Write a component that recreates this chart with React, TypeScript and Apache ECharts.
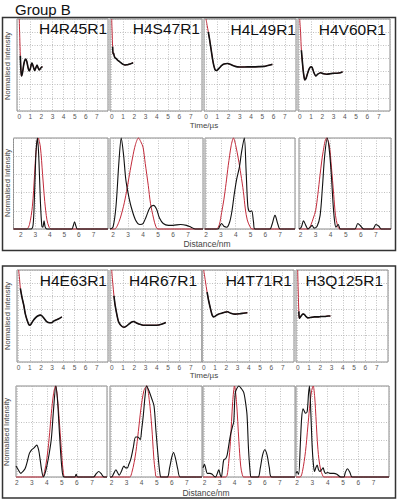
import React, { useEffect, useRef } from "react";
import * as echarts from "echarts";

const groupTitle = "Group B";
const panelTitles = ["H4R45R1", "H4S47R1", "H4L49R1", "H4V60R1", "H4E63R1", "H4R67R1", "H4T71R1", "H3Q125R1"];
const timeTickLabels = ["0", "1", "2", "3", "4", "5", "6", "7"];
const distTickLabels = ["2", "3", "4", "5", "6", "7"];
const yAxisTitle = "Normalised Intensity";
const timeAxisTitle = "Time/µs";
const distAxisTitle = "Distance/nm";

// DEER time traces: [time (µs), normalised intensity]
const timeH4R45R1 = [[0, 1.0], [0.05, 0.8], [0.1, 0.6], [0.15, 0.45], [0.21, 0.38], [0.3, 0.42], [0.4, 0.5], [0.5, 0.55], [0.6, 0.565], [0.7, 0.53], [0.8, 0.47], [0.9, 0.435], [1.0, 0.46], [1.1, 0.51], [1.16, 0.52], [1.25, 0.49], [1.4, 0.44], [1.5, 0.47], [1.6, 0.5], [1.7, 0.47], [1.8, 0.445], [1.9, 0.46], [2.0, 0.475], [2.1, 0.48]];
const timeH4S47R1 = [[0, 1.0], [0.04, 0.85], [0.08, 0.7], [0.12, 0.62], [0.16, 0.63], [0.22, 0.6], [0.3, 0.576], [0.4, 0.57], [0.5, 0.555], [0.6, 0.545], [0.7, 0.536], [0.8, 0.525], [0.9, 0.515], [1.0, 0.508], [1.1, 0.503], [1.2, 0.5], [1.3, 0.502], [1.4, 0.503], [1.5, 0.507], [1.6, 0.51], [1.7, 0.515], [1.8, 0.52], [1.9, 0.525]];
const timeH4L49R1 = [[0, 1.0], [0.1, 0.93], [0.2, 0.86], [0.3, 0.79], [0.4, 0.71], [0.5, 0.63], [0.6, 0.55], [0.7, 0.49], [0.8, 0.45], [0.9, 0.44], [1.0, 0.445], [1.2, 0.47], [1.4, 0.495], [1.6, 0.51], [1.9, 0.517], [2.2, 0.505], [2.5, 0.49], [2.8, 0.48], [3.2, 0.478], [3.7, 0.48], [4.2, 0.48], [4.7, 0.482], [5.2, 0.485], [5.5, 0.495], [5.9, 0.507]];
const timeH4V60R1 = [[0, 1.0], [0.08, 0.85], [0.15, 0.66], [0.3, 0.45], [0.4, 0.36], [0.45, 0.337], [0.55, 0.35], [0.7, 0.41], [0.85, 0.46], [1.0, 0.48], [1.1, 0.475], [1.25, 0.42], [1.43, 0.38], [1.6, 0.4], [1.85, 0.416], [2.1, 0.405], [2.4, 0.4], [2.7, 0.405], [3.0, 0.41], [3.3, 0.41], [3.6, 0.415], [3.8, 0.427]];
const timeH4E63R1 = [[0, 1.0], [0.08, 0.9], [0.15, 0.8], [0.3, 0.7], [0.45, 0.62], [0.6, 0.52], [0.75, 0.457], [0.9, 0.41], [0.98, 0.4], [1.1, 0.41], [1.3, 0.45], [1.5, 0.48], [1.7, 0.5], [1.94, 0.51], [2.1, 0.5], [2.3, 0.47], [2.5, 0.44], [2.77, 0.427], [3.0, 0.43], [3.2, 0.45], [3.4, 0.46], [3.6, 0.47], [3.87, 0.49]];
const timeH4R67R1 = [[0, 1.0], [0.1, 0.85], [0.2, 0.72], [0.3, 0.62], [0.45, 0.52], [0.6, 0.44], [0.8, 0.4], [1.1, 0.377], [1.3, 0.39], [1.5, 0.41], [1.7, 0.43], [1.93, 0.44], [2.2, 0.425], [2.5, 0.41], [2.8, 0.4], [3.2, 0.4], [3.6, 0.4], [4.0, 0.4], [4.4, 0.41], [4.8, 0.43]];
const timeH4T71R1 = [[0, 1.0], [0.15, 0.88], [0.3, 0.76], [0.45, 0.66], [0.6, 0.58], [0.75, 0.51], [0.9, 0.49], [1.1, 0.505], [1.3, 0.52], [1.6, 0.53], [1.85, 0.54], [2.1, 0.547], [2.4, 0.53], [2.8, 0.52], [3.2, 0.525], [3.5, 0.53], [3.87, 0.536]];
const timeH3Q125R1 = [[0, 1.0], [0.05, 0.75], [0.1, 0.55], [0.15, 0.475], [0.3, 0.5], [0.45, 0.52], [0.55, 0.52], [0.7, 0.5], [0.9, 0.48], [1.2, 0.485], [1.5, 0.49], [1.8, 0.49], [2.1, 0.495], [2.4, 0.495], [2.7, 0.5], [2.9, 0.5]];

// distance distributions: [distance (nm), normalised intensity]
const distBlackH4R45R1 = [[1.5, 0], [2.7, 0], [2.85, 0.05], [2.95, 0.4], [3.05, 0.85], [3.15, 1.0], [3.25, 0.75], [3.35, 0.3], [3.45, 0.03], [3.52, 0.02], [3.6, 0.09], [3.68, 0.02], [3.8, 0], [5.5, 0], [5.6, 0.03], [5.7, 0.08], [5.8, 0.03], [5.9, 0], [8, 0]];
const distRedH4R45R1 = [[1.5, 0], [2.4, 0], [2.6, 0.05], [2.8, 0.25], [2.95, 0.6], [3.05, 0.85], [3.2, 1.0], [3.35, 0.9], [3.5, 0.6], [3.65, 0.3], [3.8, 0.1], [3.95, 0.02], [4.1, 0], [8, 0]];
const distBlackH4S47R1 = [[1.8, 0], [2.0, 0.02], [2.2, 0.25], [2.4, 0.75], [2.55, 1.0], [2.7, 0.82], [2.85, 0.55], [3.0, 0.4], [3.2, 0.25], [3.5, 0.1], [3.8, 0.05], [4.0, 0.06], [4.2, 0.13], [4.45, 0.23], [4.7, 0.26], [4.9, 0.22], [5.1, 0.12], [5.35, 0.06], [5.7, 0.04], [6.0, 0.04], [6.5, 0.05], [6.9, 0.04], [7.2, 0.02], [7.5, 0], [8, 0]];
const distRedH4S47R1 = [[1.8, 0], [2.1, 0], [2.4, 0.08], [2.7, 0.25], [2.9, 0.41], [3.1, 0.6], [3.3, 0.78], [3.5, 0.93], [3.7, 1.0], [3.85, 0.96], [4.0, 0.9], [4.15, 0.72], [4.35, 0.48], [4.5, 0.28], [4.7, 0.12], [4.85, 0.03], [5.0, 0], [8, 0]];
const distBlackH4L49R1 = [[1.9, 0], [2.8, 0], [2.95, 0.04], [3.05, 0.06], [3.2, 0.03], [3.4, 0.02], [3.6, 0.08], [3.75, 0.2], [3.9, 0.38], [4.07, 0.55], [4.25, 0.68], [4.4, 0.85], [4.58, 1.0], [4.7, 0.65], [4.82, 0.25], [4.95, 0.19], [5.08, 0.2], [5.2, 0.08], [5.3, 0], [6.3, 0], [6.45, 0.05], [6.65, 0.15], [6.85, 0.05], [7.0, 0], [8, 0]];
const distRedH4L49R1 = [[1.9, 0], [2.7, 0], [2.9, 0.05], [3.05, 0.18], [3.2, 0.32], [3.35, 0.5], [3.5, 0.7], [3.7, 0.92], [3.85, 1.0], [4.0, 0.92], [4.18, 0.77], [4.35, 0.6], [4.52, 0.41], [4.65, 0.22], [4.78, 0.1], [4.95, 0.03], [5.1, 0], [8, 0]];
const distBlackH4V60R1 = [[1.9, 0], [2.05, 0.02], [2.2, 0.09], [2.35, 0.04], [2.5, 0], [2.65, 0.02], [2.77, 0.04], [2.9, 0.01], [3.1, 0.03], [3.3, 0.15], [3.45, 0.45], [3.6, 0.8], [3.78, 1.0], [3.92, 0.85], [4.05, 0.58], [4.15, 0.3], [4.25, 0.1], [4.35, 0.02], [4.5, 0.05], [4.65, 0], [5.6, 0], [5.8, 0.06], [6.0, 0.03], [6.2, 0], [6.8, 0], [7.0, 0.05], [7.2, 0.03], [7.35, 0], [8, 0]];
const distRedH4V60R1 = [[1.9, 0], [2.5, 0], [2.7, 0.05], [2.85, 0.12], [3.0, 0.2], [3.15, 0.38], [3.3, 0.6], [3.5, 0.85], [3.72, 1.0], [3.9, 0.93], [4.05, 0.68], [4.2, 0.38], [4.32, 0.15], [4.45, 0.04], [4.6, 0], [8, 0]];
const distBlackH4E63R1 = [[1.95, 0.12], [2.1, 0.08], [2.27, 0.04], [2.4, 0.06], [2.55, 0.09], [2.7, 0.17], [2.84, 0.26], [3.0, 0.3], [3.15, 0.32], [3.33, 0.35], [3.45, 0.3], [3.55, 0.2], [3.65, 0.08], [3.77, 0], [3.88, 0.04], [4.0, 0.12], [4.15, 0.25], [4.3, 0.42], [4.45, 0.75], [4.6, 1.0], [4.72, 0.82], [4.85, 0.45], [5.0, 0.1], [5.15, 0], [5.85, 0], [5.95, 0.03], [6.05, 0], [7.1, 0], [7.3, 0.04], [7.45, 0.06], [7.6, 0.04], [7.8, 0], [8, 0]];
const distRedH4E63R1 = [[1.95, 0], [3.7, 0], [3.85, 0.06], [4.0, 0.2], [4.15, 0.42], [4.3, 0.7], [4.45, 0.92], [4.58, 1.0], [4.7, 0.88], [4.85, 0.57], [5.0, 0.22], [5.1, 0.05], [5.2, 0], [8, 0]];
const distBlackH4R67R1 = [[1.9, 0], [2.0, 0], [2.15, 0.04], [2.29, 0.08], [2.4, 0.05], [2.51, 0.02], [2.65, 0.06], [2.82, 0.12], [2.95, 0.1], [3.05, 0.1], [3.15, 0.14], [3.27, 0.19], [3.44, 0.32], [3.6, 0.44], [3.75, 0.44], [3.9, 0.41], [4.0, 0.52], [4.11, 0.68], [4.22, 0.88], [4.33, 1.0], [4.5, 0.94], [4.67, 0.86], [4.82, 0.78], [4.95, 0.5], [5.1, 0.21], [5.2, 0.05], [5.29, 0], [5.7, 0], [5.85, 0.1], [6.0, 0.22], [6.11, 0.27], [6.25, 0.2], [6.4, 0.08], [6.56, 0], [8, 0]];
const distRedH4R67R1 = [[1.9, 0], [3.2, 0], [3.35, 0.05], [3.5, 0.16], [3.62, 0.28], [3.78, 0.5], [3.95, 0.75], [4.15, 0.95], [4.33, 1.0], [4.5, 0.85], [4.67, 0.55], [4.8, 0.22], [4.9, 0.06], [5.0, 0], [8, 0]];
const distBlackH4T71R1 = [[1.9, 0.1], [2.0, 0.14], [2.1, 0.08], [2.18, 0.04], [2.35, 0.04], [2.51, 0.03], [2.62, 0.01], [2.73, 0], [2.85, 0.04], [2.95, 0.08], [3.05, 0.02], [3.12, 0], [3.2, 0.1], [3.28, 0.19], [3.4, 0.2], [3.5, 0.24], [3.6, 0.34], [3.72, 0.46], [3.85, 0.55], [3.94, 0.61], [4.05, 0.93], [4.28, 1.0], [4.45, 0.97], [4.6, 0.93], [4.72, 0.82], [4.82, 0.68], [4.92, 0.3], [5.04, 0.03], [5.1, 0], [5.55, 0], [5.7, 0.1], [5.85, 0.24], [6.0, 0.3], [6.15, 0.24], [6.3, 0.1], [6.45, 0], [8, 0]];
const distRedH4T71R1 = [[1.9, 0], [3.4, 0], [3.5, 0.02], [3.6, 0.15], [3.72, 0.39], [3.87, 0.83], [3.99, 1.0], [4.12, 0.83], [4.28, 0.39], [4.4, 0.12], [4.5, 0.03], [4.6, 0], [8, 0]];
const distBlackH3Q125R1 = [[1.93, 0.04], [2.0, 0.06], [2.1, 0.03], [2.22, 0.39], [2.3, 0.65], [2.39, 0.75], [2.48, 0.72], [2.55, 0.7], [2.66, 0.72], [2.75, 0.92], [2.81, 1.0], [2.9, 0.7], [2.98, 0.35], [3.06, 0.15], [3.14, 0.06], [3.22, 0.1], [3.31, 0.13], [3.4, 0.08], [3.49, 0.06], [3.6, 0.08], [3.7, 0.1], [3.78, 0.06], [3.86, 0.04], [4.0, 0.05], [4.18, 0.04], [4.4, 0.04], [4.6, 0.03], [4.85, 0], [5.05, 0], [5.15, 0.05], [5.29, 0.09], [5.45, 0.05], [5.6, 0], [8, 0]];
const distRedH3Q125R1 = [[1.93, 0], [2.2, 0], [2.35, 0.06], [2.55, 0.28], [2.7, 0.55], [2.81, 0.75], [2.95, 0.95], [3.05, 1.0], [3.15, 0.88], [3.2, 0.75], [3.32, 0.4], [3.42, 0.2], [3.55, 0.07], [3.64, 0.03], [3.75, 0], [8, 0]];

const timeTraces = [timeH4R45R1, timeH4S47R1, timeH4L49R1, timeH4V60R1, timeH4E63R1, timeH4R67R1, timeH4T71R1, timeH3Q125R1];
const distBlack = [distBlackH4R45R1, distBlackH4S47R1, distBlackH4L49R1, distBlackH4V60R1, distBlackH4E63R1, distBlackH4R67R1, distBlackH4T71R1, distBlackH3Q125R1];
const distRed = [distRedH4R45R1, distRedH4S47R1, distRedH4L49R1, distRedH4V60R1, distRedH4E63R1, distRedH4R67R1, distRedH4T71R1, distRedH3Q125R1];

// layout (pixels)
const FONT = "'Liberation Sans', Arial, Helvetica, sans-serif";
const RED = "#c22a3a";
const timeBoxes = [
  { left: 17, top: 19, width: 91, min: -0.2 },
  { left: 110, top: 19, width: 92, min: -0.15 },
  { left: 204, top: 19, width: 92, min: -0.18 },
  { left: 298, top: 19, width: 92, min: -0.15 },
  { left: 17, top: 270, width: 91, min: -0.15 },
  { left: 110, top: 270, width: 92, min: -0.15 },
  { left: 202, top: 270, width: 92, min: -0.15 },
  { left: 296, top: 270, width: 92, min: -0.15 },
];
const distBoxes = [
  { left: 13.5, top: 138, width: 94.5, min: 1.5 },
  { left: 110, top: 138, width: 93, min: 1.8 },
  { left: 205, top: 138, width: 90, min: 1.93 },
  { left: 299, top: 138, width: 92, min: 1.9 },
  { left: 16, top: 386, width: 91, min: 1.95 },
  { left: 110, top: 386, width: 92, min: 1.9 },
  { left: 203, top: 386, width: 92, min: 1.9 },
  { left: 296, top: 386, width: 93, min: 1.93 },
];
const titlePos = [
  [107, 20.5], [200, 20.5], [296, 21.5], [386, 21.5],
  [107, 272.5], [197, 272.5], [292, 272.5], [383, 272.5],
];

const gridLine = { show: true, lineStyle: { color: "#b0b0b0", type: [1, 1.5], width: 0.8 } };

function labelFormatter(list: string[]) {
  return (v: number) => {
    const r = Math.round(v);
    if (Math.abs(v - r) > 1e-6) return "";
    const s = String(r);
    return list.includes(s) ? s : "";
  };
}

export default function App() {
  const ref = useRef<HTMLDivElement>(null);
  useEffect(() => {
    if (!ref.current) return;
    const chart = echarts.init(ref.current, undefined, { renderer: "svg" });
    const grid: any[] = [];
    const xAxis: any[] = [];
    const yAxis: any[] = [];
    const series: any[] = [];

    timeBoxes.forEach((b, i) => {
      grid.push({ left: b.left, top: b.top, width: b.width, height: 92, show: true, borderColor: "#8a8a8a", borderWidth: 1, outerBoundsMode: "none" });
      xAxis.push({
        gridIndex: i, type: "value", min: b.min, max: 8, splitNumber: 8,
        axisLine: { show: false }, axisTick: { show: false },
        axisLabel: { fontSize: 6.5, color: "#555", fontFamily: FONT, margin: 2, formatter: labelFormatter(timeTickLabels) },
        splitLine: gridLine,
      });
      yAxis.push({
        gridIndex: i, type: "value", min: 0, max: 1, interval: 1 / 7,
        axisLine: { show: false }, axisTick: { show: false }, axisLabel: { show: false },
        splitLine: gridLine,
      });
      series.push({
        type: "line", xAxisIndex: i, yAxisIndex: i, data: timeTraces[i], showSymbol: false, smooth: 0.3, clip: false, silent: true,
        lineStyle: { color: RED, width: 1 },
      });
      series.push({
        type: "line", xAxisIndex: i, yAxisIndex: i, data: timeTraces[i].slice(2), showSymbol: false, smooth: 0.2, clip: false, silent: true,
        lineStyle: { color: "#111", width: 1.6 },
      });
    });

    distBoxes.forEach((b, k) => {
      const i = k + 8;
      grid.push({ left: b.left, top: b.top, width: b.width, height: 91, show: true, borderColor: "#8a8a8a", borderWidth: 1, outerBoundsMode: "none" });
      xAxis.push({
        gridIndex: i, type: "value", min: b.min, max: 8, splitNumber: 6,
        axisLine: { show: false }, axisTick: { show: false },
        axisLabel: { fontSize: 6.5, color: "#555", fontFamily: FONT, margin: 1.5, formatter: labelFormatter(distTickLabels) },
        splitLine: gridLine,
      });
      yAxis.push({
        gridIndex: i, type: "value", min: 0, max: 1, interval: 0.2,
        axisLine: { show: false }, axisTick: { show: false }, axisLabel: { show: false },
        splitLine: gridLine,
      });
      series.push({
        type: "line", xAxisIndex: i, yAxisIndex: i, data: distRed[k], showSymbol: false, smooth: 0.3, clip: false, silent: true,
        lineStyle: { color: RED, width: 1 },
      });
      series.push({
        type: "line", xAxisIndex: i, yAxisIndex: i, data: distBlack[k], showSymbol: false, smooth: 0.3, clip: false, silent: true,
        lineStyle: { color: "#111", width: 1.1 },
      });
    });

    const graphic: any[] = [
      { type: "rect", shape: { x: 2.5, y: 17.5, width: 393, height: 233 }, style: { fill: "none", stroke: "#333", lineWidth: 1.5 }, z: 10 },
      { type: "rect", shape: { x: 2.5, y: 266, width: 393, height: 232 }, style: { fill: "none", stroke: "#333", lineWidth: 1.5 }, z: 10 },
      { type: "text", x: 15, y: 1.5, style: { text: groupTitle, fontSize: 15, fontFamily: FONT, fill: "#111", align: "left", verticalAlign: "top" } },
    ];
    panelTitles.forEach((t, i) => {
      graphic.push({ type: "text", x: titlePos[i][0], y: titlePos[i][1], z: 20, style: { text: t, fontSize: 15.5, fontFamily: FONT, fill: "#111", align: "right", verticalAlign: "top" } });
    });
    [[7.5, 66], [7.5, 183], [7.5, 316], [6, 432]].forEach(([x, y]) => {
      graphic.push({ type: "text", x, y, rotation: Math.PI / 2, style: { text: yAxisTitle, fontSize: 7.5, fontFamily: FONT, fill: "#444", align: "center", verticalAlign: "middle" } });
    });
    graphic.push({ type: "text", x: 204, y: 125, style: { text: timeAxisTitle, fontSize: 8, fontFamily: FONT, fill: "#444", align: "center", verticalAlign: "middle" } });
    graphic.push({ type: "text", x: 207, y: 243.5, style: { text: distAxisTitle, fontSize: 8.5, fontFamily: FONT, fill: "#444", align: "center", verticalAlign: "middle" } });
    graphic.push({ type: "text", x: 204, y: 375.5, style: { text: timeAxisTitle, fontSize: 8, fontFamily: FONT, fill: "#444", align: "center", verticalAlign: "middle" } });
    graphic.push({ type: "text", x: 206, y: 492.5, style: { text: distAxisTitle, fontSize: 8.5, fontFamily: FONT, fill: "#444", align: "center", verticalAlign: "middle" } });

    chart.setOption({ animation: false, backgroundColor: "#fff", grid, xAxis, yAxis, series, graphic });
    return () => chart.dispose();
  }, []);
  return <div ref={ref} style={{ position: "fixed", left: 0, top: 0, width: 397, height: 500 }} />;
}
